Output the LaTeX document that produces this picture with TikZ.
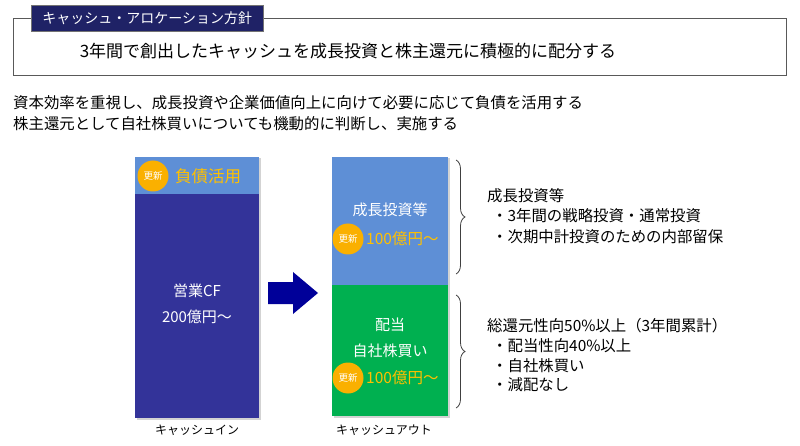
\documentclass[tikz,border=0pt]{standalone}
\usepackage{fontspec}
\setmainfont{Noto Sans CJK JP}
\usetikzlibrary{decorations.pathreplacing,shadows}
\definecolor{tabnavy}{HTML}{1F2266}
\definecolor{barnavy}{HTML}{333399}
\definecolor{barblue}{HTML}{5E8FD6}
\definecolor{bargreen}{HTML}{00B050}
\definecolor{goldtxt}{HTML}{FFC000}
\definecolor{badge}{HTML}{FAB000}
\definecolor{arrowblue}{HTML}{000099}
\begin{document}
\begin{tikzpicture}[x=1pt,y=-1pt,
  txt/.style={inner sep=0pt, anchor=west, font=\fontsize{15.4}{17}\selectfont},
  bartxt/.style={inner sep=0pt, text=white, font=\fontsize{15}{17}\selectfont},
  goldlbl/.style={inner sep=0pt, anchor=west, text=goldtxt, font=\fontsize{15.5}{17}\selectfont},
  badgenode/.style={circle, fill=badge, minimum size=31pt, inner sep=0pt, text=white, font=\fontsize{9.5}{10}\selectfont},
  caption/.style={inner sep=0pt, font=\fontsize{12}{14}\selectfont},
  bshadow/.style={drop shadow={shadow xshift=1.5pt, shadow yshift=-1.5pt, opacity=0.35}},
  bracestyle/.style={decorate, decoration={brace, amplitude=9pt}, draw=black!75, line width=0.8pt}
]
\useasboundingbox (0,0) rectangle (800,446);
% top policy box
\draw[draw=black!65, line width=0.8pt] (13,18) rectangle (786,75);
\node[draw=black!55, fill=tabnavy, line width=0.6pt, minimum width=232pt, minimum height=26pt, inner sep=0pt, anchor=north west, text=white, font=\fontsize{14}{16}\selectfont] (tab) at (31,5) {キャッシュ・アロケーション方針};
\node[inner sep=0pt, font=\fontsize{17}{19}\selectfont] (policy) at (348,51) {3年間で創出したキャッシュを成長投資と株主還元に積極的に配分する};
% intro lines
\node[txt] (l1) at (13,103) {資本効率を重視し、成長投資や企業価値向上に向けて必要に応じて負債を活用する};
\node[txt] (l2) at (13,124) {株主還元として自社株買いについても機動的に判断し、実施する};
% left bar
\fill[barnavy, bshadow] (135,157) rectangle (259,418);
\fill[barblue] (135,157) rectangle (259,194);
\node[badgenode] (b1) at (153,176) {更新};
\node[goldlbl, font=\fontsize{16.5}{18}\selectfont] (debt) at (175,176) {負債活用};
\node[bartxt] (cf1) at (197,291) {営業CF};
\node[bartxt] (cf2) at (197,317) {200億円～};
\node[caption] (capin) at (197,430) {キャッシュイン};
% arrow
\coordinate (ar) at (268,293);
\fill[arrowblue] (ar) ++(0,-11) -- ++(25,0) -- ++(0,-10) -- (318,293) -- (293,314) -- ++(0,-10) -- (268,304) -- cycle;
% right bar
\fill[bargreen, bshadow] (332,157) rectangle (448,416);
\fill[barblue] (332,157) rectangle (448,285);
\node[badgenode] (b2) at (348,239) {更新};
\node[bartxt] (grow) at (390,210) {成長投資等};
\node[goldlbl] (g100) at (366,239) {100億円～};
\node[bartxt] (div) at (390,325) {配当};
\node[bartxt] (buy) at (390,351) {自社株買い};
\node[badgenode] (b3) at (348,378) {更新};
\node[goldlbl] (r100) at (366,378) {100億円～};
\node[caption] (capout) at (384,430) {キャッシュアウト};
% braces
\draw[bracestyle] (456,160) -- (456,274);
\draw[bracestyle] (456,295) -- (456,408);
% right descriptions
\node[txt] (d1) at (487,196) {成長投資等};
\node[txt] (d2) at (492,216) {・3年間の戦略投資・通常投資};
\node[txt] (d3) at (492,237) {・次期中計投資のための内部留保};
\node[txt] (e1) at (487,326) {総還元性向50\%以上（3年間累計）};
\node[txt] (e2) at (492,346) {・配当性向40\%以上};
\node[txt] (e3) at (492,366) {・自社株買い};
\node[txt] (e4) at (492,385) {・減配なし};
\end{tikzpicture}
\end{document}
